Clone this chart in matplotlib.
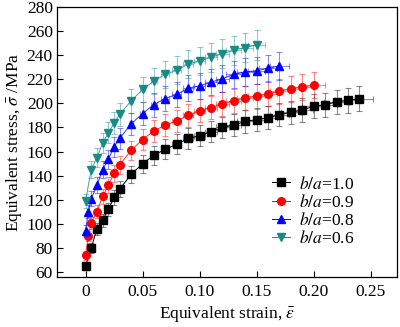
import matplotlib
matplotlib.use("Agg")
import matplotlib.pyplot as plt
import numpy as np

plt.rcParams["font.family"] = "Liberation Serif"
plt.rcParams["mathtext.fontset"] = "stix"

# strain / stress readings for each aspect ratio
strain_10 = [0, .005, .01, .015, .02, .025, .03, .04, .05, .06, .07, .08, .09, .10,
             .11, .12, .13, .14, .15, .16, .17, .18, .19, .20, .21, .22, .23, .24]
stress_10 = [65, 80, 96, 103, 112, 122, 129, 141, 150, 157, 162, 166, 171, 173,
             176.5, 180, 182, 185, 186.5, 188, 190.5, 192.5, 194.5, 197.5, 199, 201, 202.5, 204]

strain_09 = [0, .0025, .005, .01, .015, .02, .025, .03, .04, .05, .06, .07, .08, .09, .10,
             .11, .12, .13, .14, .15, .16, .17, .18, .19, .20]
stress_09 = [74, 90, 101, 110, 123, 132, 142, 149, 161, 170, 177, 182, 185.5, 190, 194,
             196.5, 199.5, 202, 204.5, 206, 208, 210, 212, 213.5, 215]

strain_08 = [0, .0025, .005, .01, .015, .02, .025, .03, .04, .05, .06, .07, .08, .09, .10,
             .11, .12, .13, .14, .15, .16, .17]
stress_08 = [94.5, 110, 121, 132, 145, 153.5, 164, 171, 183, 191.5, 199, 204, 207.5, 212.5, 214.5,
             217.5, 220.5, 224, 226, 227, 229, 231]

strain_06 = [0, .005, .01, .015, .02, .025, .03, .04, .05, .06, .07, .08, .09, .10,
             .11, .12, .13, .14, .15]
stress_06 = [119, 145, 155, 167, 175.5, 183.5, 191, 202, 211.5, 218.7, 224, 227.5, 232.5, 235,
             238.3, 241.2, 244, 246.3, 248.5]

rel_err = 0.05  # 5 % scatter on both strain and stress

series = [
    ("$b/a$=1.0", strain_10, stress_10, "black", "s"),
    ("$b/a$=0.9", strain_09, stress_09, "red", "o"),
    ("$b/a$=0.8", strain_08, stress_08, "blue", "^"),
    ("$b/a$=0.6", strain_06, stress_06, "#1a8a86", "v"),
]

fig = plt.figure(figsize=(4.0, 3.27), dpi=100)
ax = fig.add_axes([0.1425, 0.153, 0.85, 0.826])

for label, x, y, c, m in series:
    x = np.array(x)
    y = np.array(y)
    ax.errorbar(x, y, xerr=rel_err * x, yerr=rel_err * y, fmt="none",
                ecolor=c, alpha=0.45, elinewidth=0.8, capsize=2.5, capthick=0.8)
    ax.plot(x, y, color=c, lw=0.7, alpha=0.8 if c != "black" else 1)
    ax.plot([], [], color=c, lw=0.7, marker=m, ms=5.5, label=label)
    ax.plot(x, y, ls="none", marker=m, ms=5.5, color=c, mec=c)

ax.set_xlim(-0.025, 0.273)
ax.set_ylim(56, 280)
ax.set_xticks([0, 0.05, 0.10, 0.15, 0.20, 0.25])
ax.set_xticklabels(["0", "0.05", "0.10", "0.15", "0.20", "0.25"])
ax.set_yticks(range(60, 281, 20))
ax.tick_params(direction="in", length=4, width=0.8, labelsize=12.5)
ax.tick_params(axis="x", pad=5)
ax.tick_params(axis="y", pad=3)
for s in ax.spines.values():
    s.set_linewidth(0.9)

ax.set_xlabel(r"Equivalent strain, $\bar{\varepsilon}$", fontsize=12.5, labelpad=3)
ax.set_ylabel(r"Equivalent stress, $\bar{\sigma}$ /MPa", fontsize=12.5, labelpad=2)

ax.legend(loc="lower right", bbox_to_anchor=(0.9, 0.08), frameon=False, fontsize=12.5,
          borderpad=0, handlelength=1.0, handletextpad=0.55, labelspacing=0.06)

fig.savefig("out.png", dpi=100)
